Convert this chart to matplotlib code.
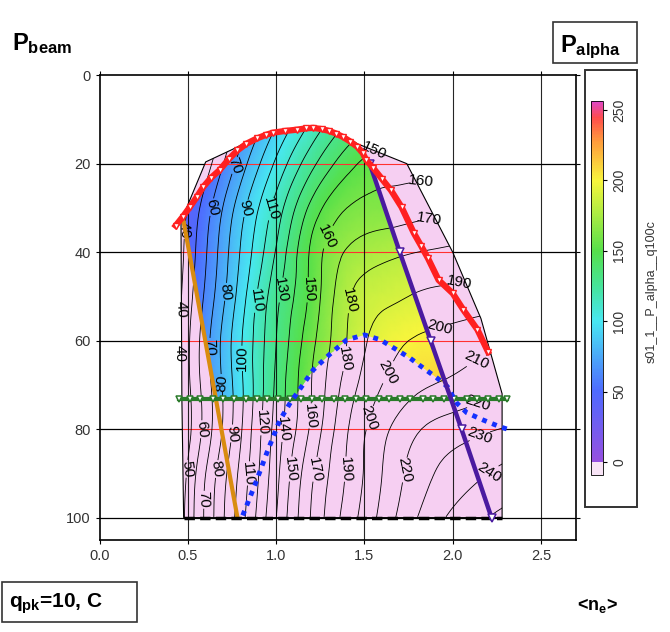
import numpy as np
import matplotlib
matplotlib.use('Agg')
import matplotlib.pyplot as plt
import matplotlib.tri as mtri
from matplotlib.colors import LinearSegmentedColormap, Normalize
from matplotlib.patches import Polygon, Rectangle
from matplotlib.cm import ScalarMappable

plt.rcParams['font.family'] = ['Liberation Sans', 'DejaVu Sans']
plt.rcParams['mathtext.fontset'] = 'custom'
plt.rcParams['mathtext.rm'] = 'Liberation Sans'
plt.rcParams['mathtext.bf'] = 'Liberation Sans:bold'

# P_alpha, on a coarse (n_e, P_beam) grid
NE_GRID = [0.4, 0.6, 0.8, 1.0, 1.2, 1.4, 1.6, 1.8, 2.0, 2.2, 2.4]
PB_GRID = [10, 20, 30, 40, 50, 60, 70, 80, 90, 100]
P_ALPHA = [
    [12, 35, 63, 88, 110, 129, 138, 141, 143, 145, 147],
    [20, 45, 75, 102, 127, 146, 155, 156, 157, 159, 161],
    [27, 55, 86, 114, 143, 160, 164, 166, 168, 170, 171],
    [29, 59, 91, 121, 152, 171, 177, 180, 182, 184, 185],
    [30, 62, 95, 127, 153, 178, 187, 191, 193, 195, 196],
    [30, 66, 99, 130, 157, 180, 195, 201, 204, 207, 209],
    [30, 65, 98, 132, 160, 184, 200, 208, 212, 216, 218],
    [30, 64, 99, 134, 162, 189, 207, 219, 225, 229, 232],
    [32, 70, 103, 137, 168, 191, 210, 225, 234, 240, 245],
    [35, 72, 106, 140, 171, 194, 213, 230, 242, 250, 255],
]
LEVELS = [40, 50, 60, 70, 80, 90, 100, 110, 120, 130, 140, 150, 160, 170, 180,
          190, 200, 210, 220, 230, 240, 250]

# operating domain outline
DOMAIN_NE = [0.475, 0.465, 0.46, 0.60, 0.75, 0.83, 0.89, 0.98, 1.12, 1.21, 1.30,
             1.38, 1.46, 1.74, 2.00, 2.16, 2.28, 2.28]
DOMAIN_PB = [100, 73, 33, 19.6, 16.8, 15.2, 14.0, 12.8, 12.2, 11.7, 12.3,
             13.5, 15.5, 20, 40, 55, 72, 100]

# limit lines
RED_NE = [0.43, 0.47, 0.51, 0.55, 0.585, 0.63, 0.68, 0.73, 0.78, 0.83, 0.89,
          0.94, 0.98, 1.05, 1.12, 1.17, 1.21, 1.26, 1.30, 1.34, 1.38, 1.42,
          1.46, 1.49, 1.51, 1.55, 1.60, 1.65, 1.71, 1.78, 1.82, 1.86, 1.92,
          2.00, 2.06, 2.14, 2.20]
RED_PB = [34, 32, 29.8, 27.5, 25.3, 23.2, 21.4, 19.0, 17.0, 15.5, 14.3,
          13.5, 13.0, 12.6, 12.3, 12.0, 11.9, 12.2, 12.6, 13.2, 14.0, 15.0,
          16.2, 17.6, 19.2, 21.0, 23.5, 26.0, 29.8, 35.7, 38.5, 41.4, 46.3,
          49.3, 53.0, 57.5, 62.5]
PURPLE_NE = [1.53, 1.70, 1.875, 2.05, 2.22]
PURPLE_PB = [20, 40, 60, 80, 100]
ORANGE_NE = [0.47, 0.78]
ORANGE_PB = [32, 100]
BLUE_NE = [0.81, 0.88, 0.95, 1.02, 1.08, 1.14, 1.21, 1.30, 1.40, 1.50, 1.59,
           1.68, 1.76, 1.81, 1.91, 1.97, 2.02, 2.08, 2.17, 2.27, 2.31]
BLUE_PB = [99.5, 92.5, 85, 78, 74, 70.6, 66.6, 63.2, 59.8, 58.7, 59.8,
           62, 64, 65.5, 68.4, 70.4, 74, 76.3, 77.9, 79.5, 80]
GREEN_PB = 73.1
GREEN_NE = [0.45, 0.51, 0.57, 0.64, 0.70, 0.76, 0.83, 0.89, 0.95, 1.01, 1.08,
            1.14, 1.20, 1.26, 1.33, 1.39, 1.45, 1.51, 1.58, 1.64, 1.70, 1.76,
            1.83, 1.89, 1.95, 2.01, 2.08, 2.14, 2.20, 2.26, 2.31]
BOTTOM_NE = [0.475, 2.28]
BOTTOM_PB = [100, 100]

# where the contour labels sit
LABEL_POS = [(0.49, 35), (0.455, 53), (0.455, 63), (0.65, 30), (0.74, 20),
             (0.82, 30), (0.96, 30), (1.29, 36.5), (1.55, 16.5), (1.83, 28),
             (1.87, 33), (2.04, 47), (1.91, 54), (2.14, 65), (2.15, 75.6),
             (2.17, 83.5), (2.23, 91.5), (0.72, 49), (0.89, 51), (1.02, 48.5),
             (1.17, 48.5), (1.42, 51), (0.62, 61.4), (0.81, 64), (1.38, 64),
             (1.59, 66), (0.71, 69.5), (0.57, 80), (0.75, 81), (0.90, 78.5),
             (1.03, 80), (1.19, 77), (1.50, 77), (0.50, 89), (0.66, 89),
             (0.84, 90), (1.08, 89), (1.21, 89), (1.38, 89), (1.70, 89),
             (0.61, 96)]

PINK = '#f6cff2'


def main():
    fig = plt.figure(figsize=(6.7, 6.32), dpi=100)
    ax = fig.add_axes([0.149, 0.146, 0.711, 0.735])

    cmap = LinearSegmentedColormap.from_list('palpha', [
        (0.0, '#9650e0'), (50 / 256, '#4e6aff'), (100 / 256, '#48e8f2'),
        (125 / 256, '#46e49a'), (150 / 256, '#56e04a'), (185 / 256, '#c8f040'),
        (200 / 256, '#f8f53c'), (228 / 256, '#ff9c3c'),
        (245 / 256, '#ff4c4c'), (1.0, '#e048c4')])
    cmap.set_under('#f8e4f6')
    norm = Normalize(0, 256)

    # black grid under everything
    for y in [20, 40, 60, 80, 100]:
        ax.axhline(y, color='black', lw=0.9, zorder=0.5)

    dom_xy = list(zip(DOMAIN_NE, DOMAIN_PB))
    ax.add_patch(Polygon(dom_xy, closed=True, facecolor=PINK, edgecolor='none', zorder=1))
    dom_clip = Polygon(dom_xy, closed=True, transform=ax.transData)

    # accessible region: under red, left of purple, above blue/green, right of orange
    red_n = np.array(RED_NE)
    red_pb = np.array(RED_PB)
    blue_n = np.array(BLUE_NE)
    blue_pb = np.array(BLUE_PB)
    top = (red_n >= 0.47) & (red_n <= 1.51)
    mid = (blue_n > 1.09) & (blue_n < 1.95)
    ne_corner = np.interp(70.0, PURPLE_PB, PURPLE_NE)
    ne_bg = np.interp(GREEN_PB, blue_pb[:6][::-1], blue_n[:6][::-1])
    ne_og = np.interp(GREEN_PB, ORANGE_PB, ORANGE_NE)
    reg_n = np.r_[red_n[top], PURPLE_NE[:3], ne_corner, blue_n[mid][::-1], ne_bg, ne_og, ORANGE_NE[0]]
    reg_pb = np.r_[red_pb[top], PURPLE_PB[:3], 70.0, blue_pb[mid][::-1], GREEN_PB, GREEN_PB, ORANGE_PB[0]]
    reg_clip = Polygon(list(zip(reg_n, reg_pb)), closed=True, transform=ax.transData)

    nn, pp = np.meshgrid(NE_GRID, PB_GRID)
    triang = mtri.Triangulation(nn.ravel(), pp.ravel())
    refiner = mtri.UniformTriRefiner(triang)
    tri_f, z_f = refiner.refine_field(np.array(P_ALPHA, dtype=float).ravel(), subdiv=3)

    tpc = ax.tripcolor(tri_f, z_f, shading='gouraud', cmap=cmap, norm=norm, zorder=1.5)
    tpc.set_clip_path(reg_clip)

    # red grid inside the domain
    for y in [20, 40, 60, 80]:
        ln = ax.axhline(y, color='#ff3030', lw=0.8, zorder=1.8)
        ln.set_clip_path(dom_clip)

    cs = ax.tricontour(tri_f, z_f, levels=LEVELS, colors='black', linewidths=0.6, zorder=2)
    ax.clabel(cs, manual=LABEL_POS, inline=True, inline_spacing=2, fontsize=11, fmt='%d')
    cs.set_clip_path(dom_clip)

    for x in [0.5, 1.0, 1.5, 2.0, 2.5]:
        ax.axvline(x, color='black', lw=0.8, alpha=0.85, zorder=2.1)

    ax.add_patch(Polygon(dom_xy, closed=True, facecolor='none', edgecolor='black', lw=0.8, zorder=3))

    ax.plot(ORANGE_NE, ORANGE_PB, color='#d98c10', lw=3, zorder=4)
    ax.plot(BOTTOM_NE, BOTTOM_PB, color='black', lw=2.5, ls=(0, (3, 1.5)), zorder=4)
    ax.plot([GREEN_NE[0], GREEN_NE[-1]], [GREEN_PB, GREEN_PB], color='#2a7a2a', lw=3, zorder=4.2)
    ax.plot(GREEN_NE, [GREEN_PB] * len(GREEN_NE), ls='none', marker='v', ms=5,
            mfc='white', mec='#2a7a2a', mew=1.1, zorder=4.3)
    ax.plot(BLUE_NE, BLUE_PB, color='#1530ff', lw=3.5, ls=(0, (1, 1.2)), zorder=4.5)
    ax.plot(PURPLE_NE, PURPLE_PB, color='#4a1aa0', lw=3.2, marker='v', ms=6,
            mfc='white', mec='#4a1aa0', mew=1.1, zorder=4.8)
    ax.plot(RED_NE, RED_PB, color='#ff2020', lw=4.5, marker='v', ms=4.5,
            mfc='white', mec='#ff2020', mew=1, zorder=5)

    ax.set_xlim(0, 2.7)
    ax.set_ylim(105, 0)
    ax.set_xticks([0, 0.5, 1.0, 1.5, 2.0, 2.5])
    ax.set_xticklabels(['0.0', '0.5', '1.0', '1.5', '2.0', '2.5'])
    ax.set_yticks([0, 20, 40, 60, 80, 100])
    ax.tick_params(direction='out', length=3, top=True, right=True, labelsize=10.5,
                   labelcolor='#333333')
    for sp in ax.spines.values():
        sp.set_linewidth(1.2)

    # colorbar
    cax = fig.add_axes([0.882, 0.2484, 0.018, 0.591])
    sm = ScalarMappable(norm=norm, cmap=cmap)
    cb = fig.colorbar(sm, cax=cax, extend='min', extendrect=True, extendfrac=0.036)
    cb.set_ticks([0, 50, 100, 150, 200, 250])
    cb.outline.set_linewidth(0.6)
    cax.tick_params(labelsize=10, length=3, labelcolor='#333333')
    for t in cax.get_yticklabels():
        t.set_rotation(90)
        t.set_va('center')
    fig.add_artist(Rectangle((585 / 670, 1 - 507 / 632), 52 / 670, 437 / 632,
                             transform=fig.transFigure, fill=False, lw=1.4, color='#333333'))
    fig.text(652 / 670, 1 - 292 / 632, 's01_1__P_alpha__q100c', rotation=90,
             ha='center', va='center', fontsize=9, color='#333333')

    # headers and footers
    fig.text(12 / 670, 1 - 50 / 632, r'$\mathbf{P_{beam}}$', fontsize=17, va='baseline')
    fig.add_artist(Rectangle((553 / 670, 1 - 63 / 632), 84 / 670, 41 / 632,
                             transform=fig.transFigure, fill=False, lw=1.2, color='#333333'))
    fig.text(560 / 670, 1 - 52 / 632, r'$\mathbf{P_{alpha}}$', fontsize=17, va='baseline')
    fig.add_artist(Rectangle((2 / 670, 1 - 622 / 632), 135 / 670, 40 / 632,
                             transform=fig.transFigure, fill=False, lw=1.2, color='#333333'))
    fig.text(9 / 670, 1 - 608 / 632, r'$\mathbf{q_{pk}}$=10, C', fontsize=15,
             fontweight='bold', va='baseline')
    fig.text(577 / 670, 1 - 610 / 632, r'<$\mathbf{n_e}$>', fontsize=13,
             fontweight='bold', va='baseline')

    fig.savefig('out.png', dpi=100)


if __name__ == '__main__':
    main()
